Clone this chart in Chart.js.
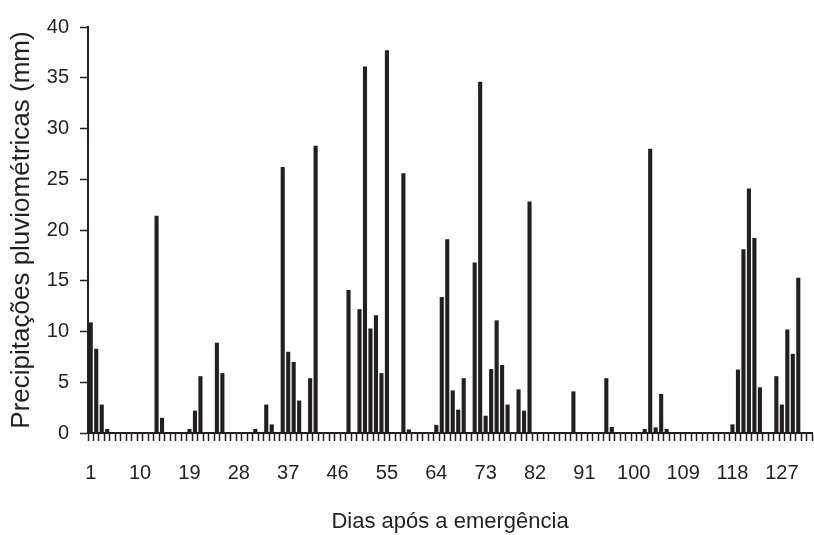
<!DOCTYPE html>
<html>
<head>
<meta charset="utf-8">
<script src="https://cdn.jsdelivr.net/npm/chart.js@4.4.1/dist/chart.umd.min.js"></script>
<style>
  html, body { margin: 0; padding: 0; background: #fff; }
  #wrap { width: 814px; height: 535px; }
</style>
</head>
<body>
<div id="wrap"><canvas id="rainChart" width="814" height="535"></canvas></div>
<script>
// days after emergence (1..132)
const days = [];
for (let d = 1; d <= 132; d++) days.push(String(d));

// daily rainfall (mm)
const rain = [
  10.9, 8.3, 2.8, 0.4, 0, 0, 0, 0, 0, 0,
  0, 0, 21.4, 1.5, 0, 0, 0, 0, 0.4, 2.2,
  5.6, 0, 0, 8.9, 5.9, 0, 0, 0, 0, 0,
  0.4, 0, 2.8, 0.85, 0, 26.2, 8.0, 7.0, 3.2, 0,
  5.4, 28.3, 0, 0, 0, 0, 0, 14.1, 0, 12.2,
  36.1, 10.3, 11.6, 5.9, 37.7, 0, 0, 25.6, 0.35, 0,
  0, 0, 0, 0.8, 13.4, 19.1, 4.2, 2.3, 5.4, 0,
  16.8, 34.6, 1.7, 6.3, 11.1, 6.7, 2.8, 0, 4.3, 2.2,
  22.8, 0, 0, 0, 0, 0, 0, 0, 4.1, 0,
  0, 0, 0, 0, 5.4, 0.6, 0, 0, 0, 0,
  0, 0.4, 28.0, 0.55, 3.85, 0.4, 0, 0, 0, 0,
  0, 0, 0, 0, 0, 0, 0, 0.85, 6.25, 18.1,
  24.1, 19.2, 4.5, 0, 0, 5.6, 2.8, 10.2, 7.8, 15.3,
  0, 0
];

// x labels shown every 9 days
const labelEvery = 9;
const yTicks = [0, 5, 10, 15, 20, 25, 30, 35, 40];

const ink = "#231f20";
const font = "'Liberation Sans', Arial, Helvetica, sans-serif";

new Chart(document.getElementById("rainChart"), {
  type: "bar",
  data: {
    labels: days,
    datasets: [{
      data: rain,
      backgroundColor: ink,
      borderWidth: 0,
      barPercentage: 0.75,
      categoryPercentage: 1.0
    }]
  },
  options: {
    responsive: false,
    animation: false,
    layout: { padding: { top: 27, right: 2, left: 0, bottom: 0 } },
    plugins: { legend: { display: false }, tooltip: { enabled: false } },
    scales: {
      x: {
        grid: { drawOnChartArea: false, drawTicks: true, tickLength: 8, tickWidth: 1.5, tickColor: ink },
        border: { color: ink, width: 2 },
        ticks: {
          autoSkip: false,
          maxRotation: 0,
          padding: 20,
          color: ink,
          font: { family: font, size: 20 },
          callback: (v, i) => (i % labelEvery === 0 ? days[i] : "")
        },
        title: {
          display: true,
          text: "Dias após a emergência",
          color: ink,
          font: { family: font, size: 22 },
          padding: { top: 0, bottom: 0 }
        },
        afterFit: (scale) => {
          scale.height = 102;
          // labels are sparse, no need to reserve side room for them
          scale.paddingLeft = 0;
          scale.paddingRight = 0;
        }
      },
      y: {
        min: 0,
        max: 40,
        afterBuildTicks: (scale) => { scale.ticks = yTicks.map(v => ({ value: v })); },
        grid: { drawOnChartArea: false, drawTicks: true, tickLength: 8, tickWidth: 1.5, tickColor: ink },
        border: { color: ink, width: 2 },
        ticks: {
          padding: 11,
          color: ink,
          font: { family: font, size: 20 }
        },
        title: {
          display: true,
          text: "Precipitações pluviométricas (mm)",
          color: ink,
          font: { family: font, size: 26 },
          padding: { top: 6, bottom: 0 }
        },
        afterFit: (scale) => { scale.width = 88; }
      }
    }
  }
});
</script>
</body>
</html>
